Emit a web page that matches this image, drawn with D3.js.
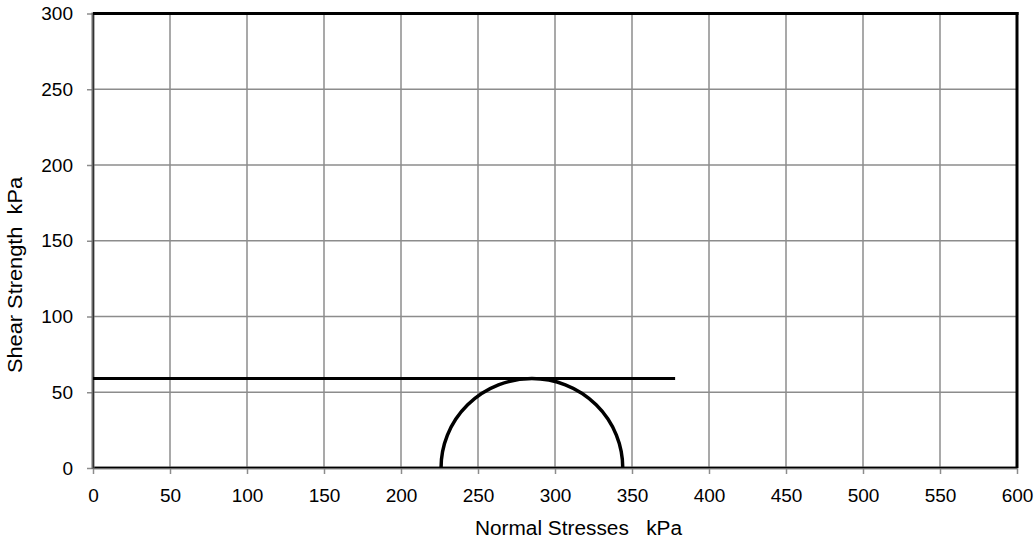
<!DOCTYPE html>
<html><head><meta charset="utf-8">
<script src="https://cdn.jsdelivr.net/npm/d3@7"></script>
<style>
body{margin:0;background:#fff;}
svg text{font-family:"Liberation Sans",Arial,sans-serif;fill:#000;white-space:pre;}
</style></head>
<body><svg id="c" width="1036" height="538"></svg>
<script>
const xTicks=[0,50,100,150,200,250,300,350,400,450,500,550,600];
const yTicks=[0,50,100,150,200,250,300];
const envelopeX=[0,378];
const envelopeY=[59,59];
const sigma3=[226];
const sigma1=[344];
const xTitle="Normal Stresses   kPa";
const yTitle="Shear Strength  kPa";

const svg=d3.select("#c");
const L=93,R=1017,T=13.5,B=468;
const x=d3.scaleLinear().domain([0,600]).range([L,R]);
const y=d3.scaleLinear().domain([0,300]).range([B,T]);

// grid
svg.append("g").selectAll("line").data(xTicks.slice(1,-1)).join("line")
 .attr("x1",d=>x(d)).attr("x2",d=>x(d)).attr("y1",T).attr("y2",B)
 .attr("stroke","#8c8c8c").attr("stroke-width",1.5);
svg.append("g").selectAll("line").data(yTicks.slice(1,-1)).join("line")
 .attr("y1",d=>y(d)).attr("y2",d=>y(d)).attr("x1",L).attr("x2",R)
 .attr("stroke","#8c8c8c").attr("stroke-width",1.5);

// axes
const xa=svg.append("g").attr("transform",`translate(0,${B})`)
 .call(d3.axisBottom(x).tickValues(xTicks).tickSize(6).tickSizeOuter(0).tickPadding(14.5));
const ya=svg.append("g").attr("transform",`translate(${L},0)`)
 .call(d3.axisLeft(y).tickValues(yTicks).tickSize(6).tickSizeOuter(0).tickPadding(14));
[xa,ya].forEach(a=>{
 a.selectAll("text").attr("font-size",19).attr("font-family","Liberation Sans, Arial, sans-serif").attr("fill","#000");
 a.selectAll(".tick line").attr("stroke","#8c8c8c").attr("stroke-width",1.5);
 a.select(".domain").remove();
});
// border
svg.append("line").attr("x1",L).attr("x2",R).attr("y1",B).attr("y2",B).attr("stroke","#8c8c8c").attr("stroke-width",3);
svg.append("line").attr("x1",L).attr("x2",R).attr("y1",B-0.5).attr("y2",B-0.5).attr("stroke","#000").attr("stroke-width",1.5);
svg.append("line").attr("x1",L).attr("x2",L).attr("y1",T-1).attr("y2",B+1).attr("stroke","#6a6a6a").attr("stroke-width",3);
svg.append("line").attr("x1",L+0.5).attr("x2",L+0.5).attr("y1",T).attr("y2",B).attr("stroke","#333").attr("stroke-width",1);
svg.append("line").attr("x1",L).attr("x2",R+1.5).attr("y1",T).attr("y2",T).attr("stroke","#000").attr("stroke-width",3);
svg.append("line").attr("x1",R).attr("x2",R).attr("y1",T-1.5).attr("y2",B).attr("stroke","#000").attr("stroke-width",3);

// envelope
svg.append("path").datum(envelopeX.map((d,i)=>[d,envelopeY[i]]))
 .attr("d",d3.line().x(d=>x(d[0])).y(d=>y(d[1])))
 .attr("fill","none").attr("stroke","#000").attr("stroke-width",3);

// Mohr circle
sigma3.forEach((s3,i)=>{
 const s1=sigma1[i];
 const cx=(s1+s3)/2, r=(s1-s3)/2;
 const rx=x(s1)-x(cx), ry=y(0)-y(r);
 svg.append("path")
  .attr("d",`M${x(s3)},${y(0)} A${rx},${ry} 0 0 1 ${x(s1)},${y(0)}`)
  .attr("fill","none").attr("stroke","#000").attr("stroke-width",3.5);
});

// titles
svg.append("text").attr("x",578.5).attr("y",535).attr("text-anchor","middle").attr("font-size",20)
 .attr("textLength",207).attr("lengthAdjust","spacingAndGlyphs").text(xTitle);
svg.append("text").attr("transform",`translate(21.5,275) rotate(-90)`).attr("text-anchor","middle").attr("font-size",20)
 .attr("textLength",196).attr("lengthAdjust","spacingAndGlyphs").text(yTitle);
</script></body></html>
